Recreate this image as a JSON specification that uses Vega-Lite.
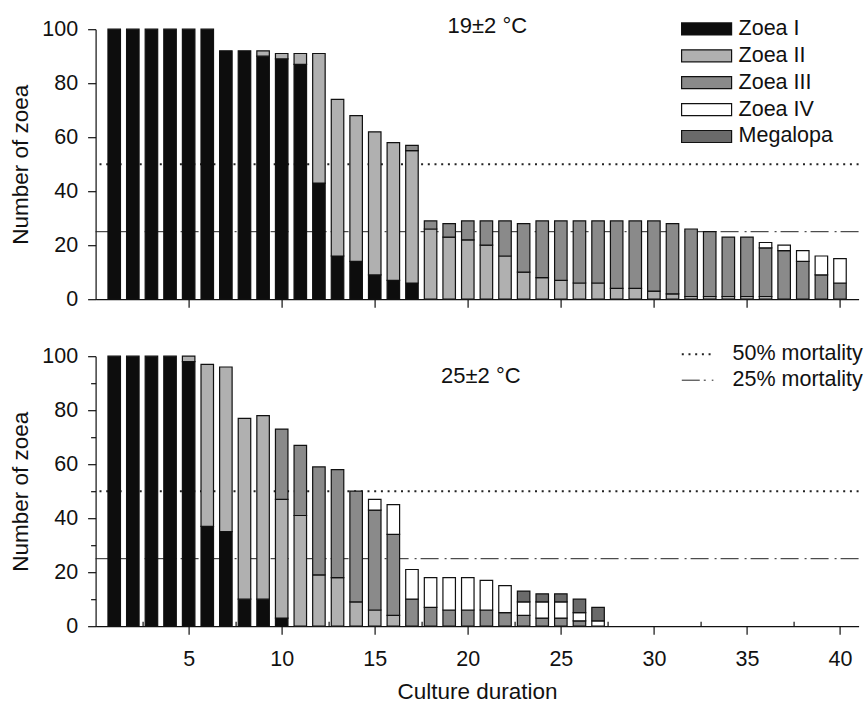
{
  "$schema": "https://vega.github.io/schema/vega-lite/v6.json",
  "background": "white",
  "padding": {"left": 9.6, "top": 15.2, "right": 0, "bottom": 2},
  "spacing": 34,
  "config": {
    "font": "Liberation Sans",
    "view": {"stroke": null},
    "axis": {
      "grid": false,
      "domainColor": "#111",
      "tickColor": "#111",
      "labelColor": "#111",
      "titleColor": "#111",
      "labelFontSize": 21.5,
      "titleFontSize": 22.5,
      "titleFontWeight": "normal",
      "labelFont": "Liberation Sans",
      "titleFont": "Liberation Sans",
      "domainWidth": 1.2,
      "tickWidth": 1.2,
      "labelFlush": false,
      "labelOverlap": false
    }
  },
  "datasets": {
    "stages": [
      {"t": 19, "d": 1, "s": "Zoea I", "n": 100},
      {"t": 19, "d": 2, "s": "Zoea I", "n": 100},
      {"t": 19, "d": 3, "s": "Zoea I", "n": 100},
      {"t": 19, "d": 4, "s": "Zoea I", "n": 100},
      {"t": 19, "d": 5, "s": "Zoea I", "n": 100},
      {"t": 19, "d": 6, "s": "Zoea I", "n": 100},
      {"t": 19, "d": 7, "s": "Zoea I", "n": 92},
      {"t": 19, "d": 8, "s": "Zoea I", "n": 92},
      {"t": 19, "d": 9, "s": "Zoea I", "n": 90},
      {"t": 19, "d": 9, "s": "Zoea II", "n": 2},
      {"t": 19, "d": 10, "s": "Zoea I", "n": 89},
      {"t": 19, "d": 10, "s": "Zoea II", "n": 2},
      {"t": 19, "d": 11, "s": "Zoea I", "n": 87},
      {"t": 19, "d": 11, "s": "Zoea II", "n": 4},
      {"t": 19, "d": 12, "s": "Zoea I", "n": 43},
      {"t": 19, "d": 12, "s": "Zoea II", "n": 48},
      {"t": 19, "d": 13, "s": "Zoea I", "n": 16},
      {"t": 19, "d": 13, "s": "Zoea II", "n": 58},
      {"t": 19, "d": 14, "s": "Zoea I", "n": 14},
      {"t": 19, "d": 14, "s": "Zoea II", "n": 54},
      {"t": 19, "d": 15, "s": "Zoea I", "n": 9},
      {"t": 19, "d": 15, "s": "Zoea II", "n": 53},
      {"t": 19, "d": 16, "s": "Zoea I", "n": 7},
      {"t": 19, "d": 16, "s": "Zoea II", "n": 51},
      {"t": 19, "d": 17, "s": "Zoea I", "n": 6},
      {"t": 19, "d": 17, "s": "Zoea II", "n": 49},
      {"t": 19, "d": 17, "s": "Zoea III", "n": 2},
      {"t": 19, "d": 18, "s": "Zoea II", "n": 26},
      {"t": 19, "d": 18, "s": "Zoea III", "n": 3},
      {"t": 19, "d": 19, "s": "Zoea II", "n": 23},
      {"t": 19, "d": 19, "s": "Zoea III", "n": 5},
      {"t": 19, "d": 20, "s": "Zoea II", "n": 22},
      {"t": 19, "d": 20, "s": "Zoea III", "n": 7},
      {"t": 19, "d": 21, "s": "Zoea II", "n": 20},
      {"t": 19, "d": 21, "s": "Zoea III", "n": 9},
      {"t": 19, "d": 22, "s": "Zoea II", "n": 16},
      {"t": 19, "d": 22, "s": "Zoea III", "n": 13},
      {"t": 19, "d": 23, "s": "Zoea II", "n": 10},
      {"t": 19, "d": 23, "s": "Zoea III", "n": 18},
      {"t": 19, "d": 24, "s": "Zoea II", "n": 8},
      {"t": 19, "d": 24, "s": "Zoea III", "n": 21},
      {"t": 19, "d": 25, "s": "Zoea II", "n": 7},
      {"t": 19, "d": 25, "s": "Zoea III", "n": 22},
      {"t": 19, "d": 26, "s": "Zoea II", "n": 6},
      {"t": 19, "d": 26, "s": "Zoea III", "n": 23},
      {"t": 19, "d": 27, "s": "Zoea II", "n": 6},
      {"t": 19, "d": 27, "s": "Zoea III", "n": 23},
      {"t": 19, "d": 28, "s": "Zoea II", "n": 4},
      {"t": 19, "d": 28, "s": "Zoea III", "n": 25},
      {"t": 19, "d": 29, "s": "Zoea II", "n": 4},
      {"t": 19, "d": 29, "s": "Zoea III", "n": 25},
      {"t": 19, "d": 30, "s": "Zoea II", "n": 3},
      {"t": 19, "d": 30, "s": "Zoea III", "n": 26},
      {"t": 19, "d": 31, "s": "Zoea II", "n": 2},
      {"t": 19, "d": 31, "s": "Zoea III", "n": 26},
      {"t": 19, "d": 32, "s": "Zoea II", "n": 1},
      {"t": 19, "d": 32, "s": "Zoea III", "n": 25},
      {"t": 19, "d": 33, "s": "Zoea II", "n": 1},
      {"t": 19, "d": 33, "s": "Zoea III", "n": 24},
      {"t": 19, "d": 34, "s": "Zoea II", "n": 1},
      {"t": 19, "d": 34, "s": "Zoea III", "n": 22},
      {"t": 19, "d": 35, "s": "Zoea II", "n": 1},
      {"t": 19, "d": 35, "s": "Zoea III", "n": 22},
      {"t": 19, "d": 36, "s": "Zoea II", "n": 1},
      {"t": 19, "d": 36, "s": "Zoea III", "n": 18},
      {"t": 19, "d": 36, "s": "Zoea IV", "n": 2},
      {"t": 19, "d": 37, "s": "Zoea III", "n": 18},
      {"t": 19, "d": 37, "s": "Zoea IV", "n": 2},
      {"t": 19, "d": 38, "s": "Zoea III", "n": 14},
      {"t": 19, "d": 38, "s": "Zoea IV", "n": 4},
      {"t": 19, "d": 39, "s": "Zoea III", "n": 9},
      {"t": 19, "d": 39, "s": "Zoea IV", "n": 7},
      {"t": 19, "d": 40, "s": "Zoea III", "n": 6},
      {"t": 19, "d": 40, "s": "Zoea IV", "n": 9},
      {"t": 25, "d": 1, "s": "Zoea I", "n": 100},
      {"t": 25, "d": 2, "s": "Zoea I", "n": 100},
      {"t": 25, "d": 3, "s": "Zoea I", "n": 100},
      {"t": 25, "d": 4, "s": "Zoea I", "n": 100},
      {"t": 25, "d": 5, "s": "Zoea I", "n": 98},
      {"t": 25, "d": 5, "s": "Zoea II", "n": 2},
      {"t": 25, "d": 6, "s": "Zoea I", "n": 37},
      {"t": 25, "d": 6, "s": "Zoea II", "n": 60},
      {"t": 25, "d": 7, "s": "Zoea I", "n": 35},
      {"t": 25, "d": 7, "s": "Zoea II", "n": 61},
      {"t": 25, "d": 8, "s": "Zoea I", "n": 10},
      {"t": 25, "d": 8, "s": "Zoea II", "n": 67},
      {"t": 25, "d": 9, "s": "Zoea I", "n": 10},
      {"t": 25, "d": 9, "s": "Zoea II", "n": 68},
      {"t": 25, "d": 10, "s": "Zoea I", "n": 3},
      {"t": 25, "d": 10, "s": "Zoea II", "n": 44},
      {"t": 25, "d": 10, "s": "Zoea III", "n": 26},
      {"t": 25, "d": 11, "s": "Zoea II", "n": 41},
      {"t": 25, "d": 11, "s": "Zoea III", "n": 26},
      {"t": 25, "d": 12, "s": "Zoea II", "n": 19},
      {"t": 25, "d": 12, "s": "Zoea III", "n": 40},
      {"t": 25, "d": 13, "s": "Zoea II", "n": 18},
      {"t": 25, "d": 13, "s": "Zoea III", "n": 40},
      {"t": 25, "d": 14, "s": "Zoea II", "n": 9},
      {"t": 25, "d": 14, "s": "Zoea III", "n": 41},
      {"t": 25, "d": 15, "s": "Zoea II", "n": 6},
      {"t": 25, "d": 15, "s": "Zoea III", "n": 37},
      {"t": 25, "d": 15, "s": "Zoea IV", "n": 4},
      {"t": 25, "d": 16, "s": "Zoea II", "n": 4},
      {"t": 25, "d": 16, "s": "Zoea III", "n": 30},
      {"t": 25, "d": 16, "s": "Zoea IV", "n": 11},
      {"t": 25, "d": 17, "s": "Zoea III", "n": 10},
      {"t": 25, "d": 17, "s": "Zoea IV", "n": 11},
      {"t": 25, "d": 18, "s": "Zoea III", "n": 7},
      {"t": 25, "d": 18, "s": "Zoea IV", "n": 11},
      {"t": 25, "d": 19, "s": "Zoea III", "n": 6},
      {"t": 25, "d": 19, "s": "Zoea IV", "n": 12},
      {"t": 25, "d": 20, "s": "Zoea III", "n": 6},
      {"t": 25, "d": 20, "s": "Zoea IV", "n": 12},
      {"t": 25, "d": 21, "s": "Zoea III", "n": 6},
      {"t": 25, "d": 21, "s": "Zoea IV", "n": 11},
      {"t": 25, "d": 22, "s": "Zoea III", "n": 5},
      {"t": 25, "d": 22, "s": "Zoea IV", "n": 10},
      {"t": 25, "d": 23, "s": "Zoea III", "n": 4},
      {"t": 25, "d": 23, "s": "Zoea IV", "n": 5},
      {"t": 25, "d": 23, "s": "Megalopa", "n": 4},
      {"t": 25, "d": 24, "s": "Zoea III", "n": 3},
      {"t": 25, "d": 24, "s": "Zoea IV", "n": 6},
      {"t": 25, "d": 24, "s": "Megalopa", "n": 3},
      {"t": 25, "d": 25, "s": "Zoea III", "n": 3},
      {"t": 25, "d": 25, "s": "Zoea IV", "n": 6},
      {"t": 25, "d": 25, "s": "Megalopa", "n": 3},
      {"t": 25, "d": 26, "s": "Zoea III", "n": 2},
      {"t": 25, "d": 26, "s": "Zoea IV", "n": 3},
      {"t": 25, "d": 26, "s": "Megalopa", "n": 5},
      {"t": 25, "d": 27, "s": "Zoea IV", "n": 2},
      {"t": 25, "d": 27, "s": "Megalopa", "n": 5}
    ],
    "lines": [
      {"m": "50% mortality", "n": 50},
      {"m": "25% mortality", "n": 25}
    ]
  },
  "resolve": {
    "scale": {"fill": "independent", "strokeDash": "independent", "strokeWidth": "independent"},
    "legend": {"fill": "independent", "strokeDash": "independent"}
  },
  "vconcat": [
    {
      "width": 763,
      "height": 270,
      "layer": [
        {
          "data": {"name": "lines"},
          "mark": {"type": "rule", "color": "#222"},
          "encoding": {
            "y": {"field": "n", "type": "quantitative", "scale": {"domain": [0, 100], "nice": false}, "title": "Number of zoea",
                  "axis": {"values": [0, 20, 40, 60, 80, 100], "tickSize": 8, "labelPadding": 10, "titlePadding": 9}},
            "strokeDash": {"field": "m", "type": "nominal", "scale": {"domain": ["50% mortality", "25% mortality"], "range": [[2, 4.7], [18, 4, 2, 6]]}, "legend": null},
            "strokeWidth": {"field": "m", "type": "nominal", "scale": {"domain": ["50% mortality", "25% mortality"], "range": [2, 1]}, "legend": null}
          }
        },
        {
          "data": {"name": "stages"},
          "transform": [
            {"filter": "datum.t == 19"},
            {"calculate": "indexof(['Zoea I','Zoea II','Zoea III','Zoea IV','Megalopa'], datum.s)", "as": "k"}
          ],
          "mark": {"type": "bar", "size": 12.5, "stroke": "#111", "strokeWidth": 1.2},
          "encoding": {
            "x": {"field": "d", "type": "quantitative", "scale": {"domain": [0, 41], "nice": false, "padding": 0}, "title": null,
                  "axis": {"values": [5, 10, 15, 20, 25, 30, 35, 40], "labels": false, "tickSize": 8}},
            "y": {"field": "n", "type": "quantitative", "stack": "zero", "scale": {"domain": [0, 100], "nice": false}, "title": "Number of zoea",
                  "axis": {"values": [0, 20, 40, 60, 80, 100], "tickSize": 8, "labelPadding": 10, "titlePadding": 9}},
            "fill": {"field": "s", "type": "nominal",
                     "scale": {"domain": ["Zoea I", "Zoea II", "Zoea III", "Zoea IV", "Megalopa"], "range": ["#0d0d0d", "#b0b0b0", "#8a8a8a", "#ffffff", "#6a6a6a"]},
                     "legend": {"title": null, "orient": "none", "legendX": 585, "legendY": -11.3, "padding": 0,
                                "symbolType": "M-1,-0.24H1V0.24H-1Z", "symbolSize": 2500, "symbolStrokeColor": "#111", "symbolStrokeWidth": 1.2,
                                "labelFontSize": 21.5, "labelFont": "Liberation Sans", "labelColor": "#111", "labelOffset": 6,
                                "clipHeight": 22, "rowPadding": 4.9}},
            "order": {"field": "k", "type": "quantitative"}
          }
        },
        {
          "data": {"values": [{"label": "19±2 °C"}]},
          "mark": {"type": "text", "fontSize": 22, "font": "Liberation Sans", "color": "#111"},
          "encoding": {
            "x": {"datum": 21.05, "type": "quantitative"},
            "y": {"datum": 101.1, "type": "quantitative"},
            "text": {"field": "label"}
          }
        }
      ]
    },
    {
      "width": 763,
      "height": 270,
      "resolve": {"axis": {"x": "independent", "y": "independent"}},
      "layer": [
        {
          "data": {"name": "lines"},
          "mark": {"type": "rule", "color": "#222"},
          "encoding": {
            "y": {"field": "n", "type": "quantitative", "scale": {"domain": [0, 100], "nice": false}, "title": null,
                  "axis": {"orient": "left", "values": [10, 30, 50, 70, 90], "labels": false, "domain": false, "tickSize": 5}},
            "strokeDash": {"field": "m", "type": "nominal", "scale": {"domain": ["50% mortality", "25% mortality"], "range": [[2, 4.7], [18, 4, 2, 6]]},
                           "legend": {"title": null, "orient": "none", "legendX": 585, "legendY": -12, "padding": 0,
                                      "symbolType": "stroke", "symbolSize": 1000, "symbolStrokeColor": "#222", "symbolStrokeWidth": 1.6,
                                      "labelFontSize": 21.5, "labelFont": "Liberation Sans", "labelColor": "#111", "labelOffset": 18,
                                      "clipHeight": 20, "rowPadding": 4}},
            "strokeWidth": {"field": "m", "type": "nominal", "scale": {"domain": ["50% mortality", "25% mortality"], "range": [2, 1]}, "legend": null}
          }
        },
        {
          "data": {"name": "stages"},
          "transform": [
            {"filter": "datum.t == 25"},
            {"calculate": "indexof(['Zoea I','Zoea II','Zoea III','Zoea IV','Megalopa'], datum.s)", "as": "k"}
          ],
          "mark": {"type": "bar", "size": 12.5, "stroke": "#111", "strokeWidth": 1.2},
          "encoding": {
            "x": {"field": "d", "type": "quantitative", "scale": {"domain": [0, 41], "nice": false, "padding": 0}, "title": "Culture duration",
                  "axis": {"orient": "bottom", "values": [5, 10, 15, 20, 25, 30, 35, 40], "tickSize": 8, "labelPadding": 14, "titlePadding": 11}},
            "y": {"field": "n", "type": "quantitative", "stack": "zero", "scale": {"domain": [0, 100], "nice": false}, "title": "Number of zoea",
                  "axis": {"orient": "left", "values": [0, 20, 40, 60, 80, 100], "tickSize": 8, "labelPadding": 10, "titlePadding": 9}},
            "fill": {"field": "s", "type": "nominal",
                     "scale": {"domain": ["Zoea I", "Zoea II", "Zoea III", "Zoea IV", "Megalopa"], "range": ["#0d0d0d", "#b0b0b0", "#8a8a8a", "#ffffff", "#6a6a6a"]},
                     "legend": null},
            "order": {"field": "k", "type": "quantitative"}
          }
        },
        {
          "data": {"values": [{"label": "25±2 °C"}]},
          "mark": {"type": "text", "fontSize": 22, "font": "Liberation Sans", "color": "#111"},
          "encoding": {
            "x": {"datum": 20.7, "type": "quantitative", "title": null, "scale": {"domain": [0, 41], "nice": false, "padding": 0},
                  "axis": {"orient": "bottom", "values": [2.5, 7.5, 12.5, 17.5, 22.5, 27.5, 32.5, 37.5], "labels": false, "domain": false, "tickSize": -5}},
            "y": {"datum": 92.7, "type": "quantitative", "axis": null},
            "text": {"field": "label"}
          }
        }
      ]
    }
  ]
}
